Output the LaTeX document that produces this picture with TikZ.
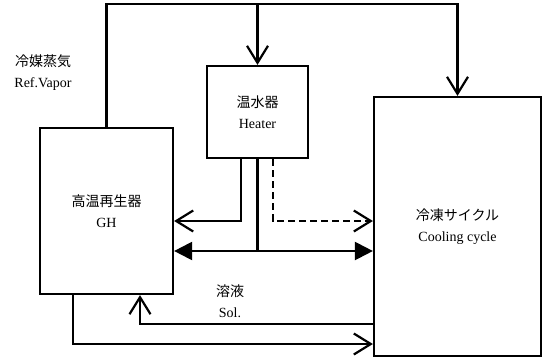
\documentclass[tikz,border=0pt]{standalone}
\usepackage{fontspec}
\setmainfont{Liberation Serif}
\newfontfamily\jp{Noto Sans CJK JP}
\usetikzlibrary{arrows.meta,calc,positioning}

\begin{document}
\begin{tikzpicture}[
  x=1pt,y=-1pt,
  font=\fontsize{14}{21}\selectfont,
  line width=2.2pt,
  block/.style={draw,line width=2.2pt,rectangle,inner sep=0pt,align=center},
  label/.style={align=center,inner sep=0pt},
  opentip/.style={-{Straight Barb[length=17pt,width=21pt]}},
  bothtip/.style={{Triangle[length=18pt,width=18pt]}-{Triangle[length=18pt,width=18pt]}},
  dashline/.style={dash pattern=on 7pt off 4pt}
]
  \useasboundingbox (0,0) rectangle (543,359);

  % blocks
  \node[block,minimum width=133pt,minimum height=166pt] (gh) at (106.5,211) {{\jp 高温再生器}\\GH};
  \node[block,minimum width=101pt,minimum height=92pt] (heater) at (257.5,112) {{\jp 温水器}\\Heater};
  \node[block,minimum width=167pt,minimum height=259pt] (cool) at (457.5,226.5) {{\jp 冷凍サイクル}\\Cooling cycle};

  % labels
  \node[label] (vapor) at (43,73) {{\jp 冷媒蒸気}\\Ref.Vapor};
  \node[label] (sol) at (230,301) {{\jp 溶液}\\Sol.};

  % refrigerant vapour
  \coordinate (ridge) at (257.5,4);
  \draw[opentip] (gh.north) |- (ridge) -| (cool.north);
  \draw[opentip] (ridge) -- (heater.north);

  % heater outputs
  \draw[opentip] ([xshift=-16.5pt]heater.south) |- (gh.east |- 0,221);
  \coordinate (tee) at (heater.south |- 0,251);
  \draw (heater.south) -- (tee);
  \draw[bothtip] (gh.east |- tee) -- (cool.west |- tee);
  \draw[opentip,dashline] ([xshift=15.5pt]heater.south) |- (cool.west |- 0,221);

  % solution loop
  \draw[opentip] ([xshift=-33.5pt]gh.south) |- (cool.west |- 0,344);
  \draw[opentip] (cool.west |- 0,324) -| ([xshift=33.5pt]gh.south);
\end{tikzpicture}
\end{document}
